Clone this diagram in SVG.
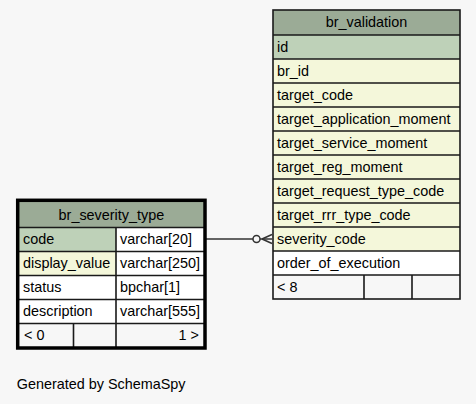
<svg xmlns="http://www.w3.org/2000/svg" width="476" height="404" viewBox="0 0 476 404">
<style>
text{font-family:"Liberation Sans",Arial,sans-serif;font-size:14.4px;fill:#000}
.hd{fill:#9bab96}
.pk{fill:#bed1b8}
.fk{fill:#f4f7da}
.pl{fill:#ffffff}
.ft{fill:#f7f7f7}
.ln{stroke:#1a1a1a;stroke-width:1.6;fill:none}
.mid{text-anchor:middle}
.end{text-anchor:end}
.conn{stroke:#333;stroke-width:1.5;fill:none}
</style>
<rect x="0" y="0" width="476" height="404" fill="#f7f7f7"/>

<g id="connectors">
  <line class="conn" x1="206" y1="239" x2="253" y2="239"/>
  <circle class="conn" cx="256.5" cy="239" r="3.5" fill="#ffffff"/>
  <line class="conn" x1="260" y1="239" x2="272" y2="239"/>
  <path class="conn" d="M262,239 L272,234.5 M262,239 L272,243.5" stroke-width="2"/>
</g>

<g id="br_validation">
  <rect class="hd" x="273" y="10" width="187" height="25"/>
  <rect class="pk" x="273" y="35" width="187" height="24"/>
  <rect class="fk" x="273" y="59" width="187" height="192"/>
  <rect class="pl" x="273" y="251" width="187" height="24"/>
  <rect class="ft" x="273" y="275" width="187" height="24"/>
  <rect class="ln" x="273" y="10" width="187" height="289"/>
  <path class="ln" d="M273,35H460M273,59H460M273,83H460M273,107H460M273,131H460M273,155H460M273,179H460M273,203H460M273,227H460M273,251H460M273,275H460M364,275V299M412,275V299"/>
  <text class="mid" x="366.5" y="27">br_validation</text>
  <text x="277" y="52">id</text>
  <text x="277" y="76">br_id</text>
  <text x="277" y="100">target_code</text>
  <text x="277" y="124">target_application_moment</text>
  <text x="277" y="148">target_service_moment</text>
  <text x="277" y="172">target_reg_moment</text>
  <text x="277" y="196">target_request_type_code</text>
  <text x="277" y="220">target_rrr_type_code</text>
  <text x="277" y="244">severity_code</text>
  <text x="277" y="268">order_of_execution</text>
  <text x="277" y="292">&lt; 8</text>
</g>

<g id="br_severity_type">
  <rect class="hd" x="18" y="200" width="187" height="27.5"/>
  <rect class="pk" x="18" y="227.5" width="98" height="24"/>
  <rect class="pl" x="116" y="227.5" width="89" height="24"/>
  <rect class="fk" x="18" y="251.5" width="98" height="24"/>
  <rect class="pl" x="116" y="251.5" width="89" height="72"/>
  <rect class="pl" x="18" y="275.5" width="98" height="48"/>
  <rect class="ft" x="18" y="323.5" width="187" height="24.5"/>
  <path class="ln" d="M18,227.5H205M18,251.5H205M18,275.5H205M18,299.5H205M18,323.5H205M116,227.5V348M73.5,323.5V348"/>
  <rect x="17.7" y="200.3" width="187.3" height="147.7" fill="none" stroke="#000" stroke-width="3.5"/>
  <text class="mid" x="111.4" y="220">br_severity_type</text>
  <text x="23" y="244">code</text>
  <text x="120" y="244">varchar[20]</text>
  <text x="23" y="268">display_value</text>
  <text x="120" y="268">varchar[250]</text>
  <text x="23" y="292">status</text>
  <text x="120" y="292">bpchar[1]</text>
  <text x="23" y="316">description</text>
  <text x="120" y="316">varchar[555]</text>
  <text x="24" y="340">&lt; 0</text>
  <text class="end" x="199" y="340">1 &gt;</text>
</g>

<text x="16.7" y="389">Generated by SchemaSpy</text>
</svg>
